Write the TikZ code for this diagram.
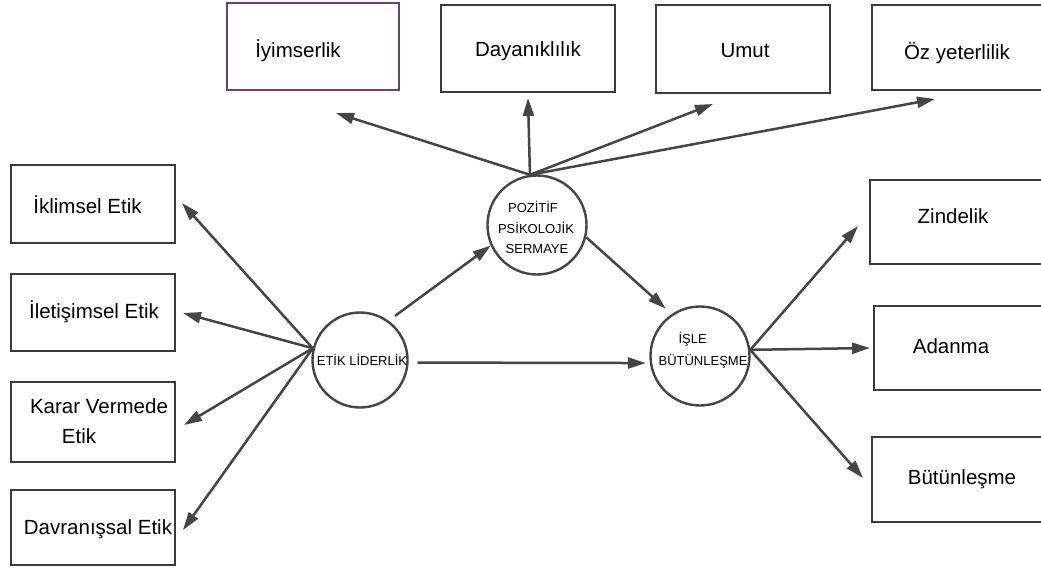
\documentclass[tikz,border=0pt]{standalone}
\usepackage{fontspec}
\setmainfont{Liberation Sans}
\usetikzlibrary{arrows.meta}
\definecolor{linegray}{HTML}{454545}
\definecolor{boxgray}{HTML}{3A3A3A}
\definecolor{plum}{RGB}{112,64,112}
\begin{document}
\begin{tikzpicture}[x=1pt,y=-1pt,
  box/.style={draw=boxgray, line width=2pt, rectangle, inner sep=0pt},
  ring/.style={draw=linegray, line width=2.4pt, circle, inner sep=0pt, minimum size=#1},
  lbl/.style={font=\fontsize{20.5}{24}\selectfont, text=black, inner sep=0pt,
              text height=14.8pt, text depth=0pt},
  clbl/.style={font=\fontsize{13}{15}\selectfont, text=black, inner sep=0pt,
               text height=9.4pt, text depth=0pt},
  link/.style={draw=linegray, line width=2.5pt, -{Triangle[length=18pt,width=11pt]}}]
\useasboundingbox (0,0) rectangle (1041,570);

% ethics dimensions (left column)
\node[box, minimum width=164pt, minimum height=78pt] (iklim)    at (93,204)   {};
\node[box, minimum width=164pt, minimum height=77pt] (iletisim) at (93,312.5) {};
\node[box, minimum width=164pt, minimum height=80pt] (karar)    at (93,422)   {};
\node[box, minimum width=164pt, minimum height=75pt] (davranis) at (93,527.5) {};
\node[lbl] (iklim-t)    at (87.5,206)   {İklimsel Etik};
\node[lbl] (iletisim-t) at (94,311)     {İletişimsel Etik};
\node[lbl] (karar-t1)   at (99,405.7)   {Karar Vermede};
\node[lbl] (karar-t2)   at (79,435.7)   {Etik};
\node[lbl] (davranis-t) at (98,527)     {Davranışsal Etik};

% psychological capital dimensions (top row)
\node[box, draw=plum, minimum width=172pt, minimum height=87pt] (iyim) at (313,46.5) {};
\node[box, minimum width=174pt, minimum height=87pt] (dayan) at (528,48.5) {};
\node[box, minimum width=174pt, minimum height=88pt] (umut)  at (743,49)   {};
\node[box, minimum width=178pt, minimum height=85pt] (oz)    at (961,47.5) {};
\node[lbl] (iyim-t)  at (298,50) {İyimserlik};
\node[lbl] (dayan-t) at (528,49) {Dayanıklılık};
\node[lbl] (umut-t)  at (745,50) {Umut};
\node[lbl] (oz-t)    at (957,52) {Öz yeterlilik};

% work engagement dimensions (right column)
\node[box, minimum width=180pt, minimum height=84pt] (zinde)  at (960,222)   {};
\node[box, minimum width=176pt, minimum height=84pt] (adanma) at (962,348)   {};
\node[box, minimum width=178pt, minimum height=85pt] (butun)  at (961,479.5) {};
\node[lbl] (zinde-t)  at (953,215.7) {Zindelik};
\node[lbl] (adanma-t) at (951,345.7) {Adanma};
\node[lbl] (butun-t)  at (962,477.3) {Bütünleşme};

% constructs
\node[ring=95pt] (etik) at (360,360) {};
\node[ring=99pt] (poz)  at (537,225) {};
\node[ring=99pt] (isle) at (700,356) {};
\node[clbl] (etik-t)  at (362,360.5) {ETİK LİDERLİK};
\node[clbl] (poz-t1)  at (533,208)   {POZİTİF};
\node[clbl] (poz-t2)  at (536,229)   {PSİKOLOJİK};
\node[clbl] (poz-t3)  at (537,249)   {SERMAYE};
\node[clbl] (isle-t1) at (692.7,339) {İŞLE};
\node[clbl] (isle-t2) at (703,361)   {BÜTÜNLEŞME};

% arrow tips next to the dimension boxes
\coordinate (to-iklim)    at (182,203);
\coordinate (to-iletisim) at (183,313);
\coordinate (to-karar)    at (184,425);
\coordinate (to-davranis) at (183,530);
\coordinate (to-iyim)  at (336,113);
\coordinate (to-dayan) at (528,98);
\coordinate (to-umut)  at (713,104);
\coordinate (to-oz)    at (935,99);
\coordinate (to-zinde)  at (858,226);
\coordinate (to-adanma) at (870,348);
\coordinate (to-butun)  at (863,478);

% structural paths
\draw[link, shorten <=8pt] (etik.54) -- (poz.204);
\draw[link, shorten >=8pt] (poz.-14) -- (isle.124);
\draw[link, shorten <=9pt, shorten >=4pt] (etik.-3) -- (isle.188);

% indicators
\foreach \t in {iklim,iletisim,karar,davranis}
  \draw[link] (etik.166) -- (to-\t);
\foreach \t in {iyim,dayan,umut,oz}
  \draw[link] (poz.98) -- (to-\t);
\foreach \t in {zinde,adanma,butun}
  \draw[link] (isle.7) -- (to-\t);
\end{tikzpicture}
\end{document}
